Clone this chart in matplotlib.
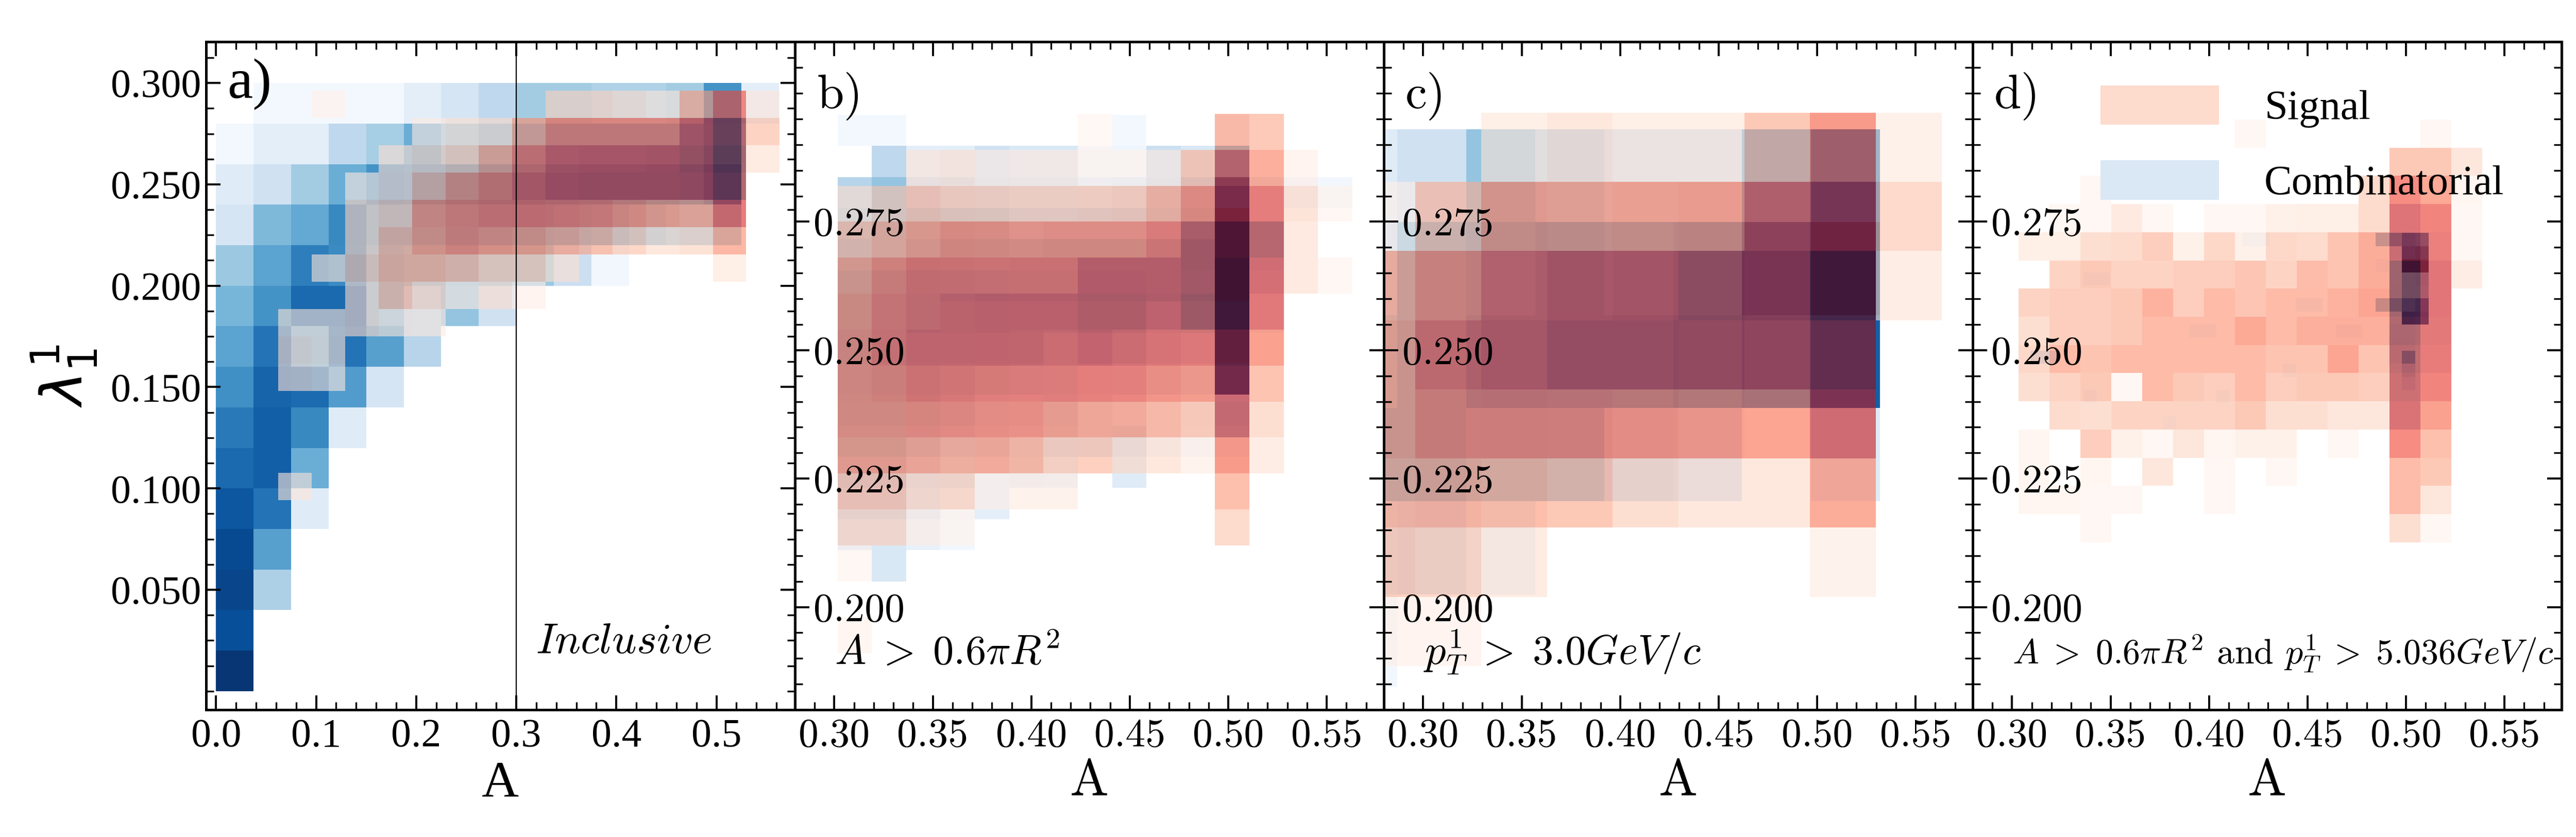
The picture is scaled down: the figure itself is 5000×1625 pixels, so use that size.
import numpy as np
import matplotlib
matplotlib.use("Agg")
import matplotlib.pyplot as plt
from matplotlib.patches import Patch
from matplotlib.ticker import MultipleLocator

plt.rcParams['font.family'] = ['Liberation Serif', 'DejaVu Serif']
plt.rcParams['mathtext.fontset'] = 'cm'

# ---------------- panel a (inclusive) ----------------
a_comb_xedges = np.linspace(0.0, 0.5625, 16)
a_comb_yedges = np.linspace(0.0, 0.30, 16)
a_comb = [
    [0.98, 0, 0, 0, 0, 0, 0, 0, 0, 0, 0, 0, 0, 0, 0],
    [0.88, 0, 0, 0, 0, 0, 0, 0, 0, 0, 0, 0, 0, 0, 0],
    [0.92, 0.33, 0, 0, 0, 0, 0, 0, 0, 0, 0, 0, 0, 0, 0],
    [0.90, 0.56, 0, 0, 0, 0, 0, 0, 0, 0, 0, 0, 0, 0, 0],
    [0.85, 0.74, 0.12, 0, 0, 0, 0, 0, 0, 0, 0, 0, 0, 0, 0],
    [0.78, 0.82, 0.50, 0, 0, 0, 0, 0, 0, 0, 0, 0, 0, 0, 0],
    [0.72, 0.82, 0.66, 0.12, 0, 0, 0, 0, 0, 0, 0, 0, 0, 0, 0],
    [0.63, 0.80, 0.77, 0.58, 0.17, 0, 0, 0, 0, 0, 0, 0, 0, 0, 0],
    [0.55, 0.74, 0.50, 0.74, 0.56, 0.30, 0, 0, 0, 0, 0, 0, 0, 0, 0],
    [0.47, 0.62, 0.78, 0.78, 0.45, 0.30, 0.40, 0.20, 0, 0, 0, 0, 0, 0, 0],
    [0.38, 0.55, 0.70, 0.65, 0.45, 0.42, 0.42, 0.38, 0.38, 0.22, 0.03, 0, 0, 0, 0],
    [0.17, 0.45, 0.52, 0.66, 0.50, 0.50, 0.50, 0.50, 0.50, 0.48, 0.45, 0.40, 0.35, 0.35, 0],
    [0.12, 0.20, 0.36, 0.50, 0.62, 0.60, 0.60, 0.60, 0.60, 0.60, 0.60, 0.60, 0.60, 0.70, 0],
    [0.02, 0.10, 0.10, 0.27, 0.35, 0.50, 0.40, 0.45, 0.50, 0.50, 0.50, 0.50, 0.50, 0.60, 0],
    [0, 0.02, 0.02, 0.02, 0.02, 0.10, 0.17, 0.27, 0.36, 0.36, 0.32, 0.32, 0.36, 0.62, 0.10],
]
a_sig_xedges = np.linspace(0.0622, 0.5632, 16)
a_sig_yedges = np.linspace(0.0943, 0.2962, 16)
a_sig = [
    [0.10, 0, 0, 0, 0, 0, 0, 0, 0, 0, 0, 0, 0, 0, 0],
    [0, 0, 0, 0, 0, 0, 0, 0, 0, 0, 0, 0, 0, 0, 0],
    [0, 0, 0, 0, 0, 0, 0, 0, 0, 0, 0, 0, 0, 0, 0],
    [0, 0, 0, 0, 0, 0, 0, 0, 0, 0, 0, 0, 0, 0, 0],
    [0.12, 0.07, 0, 0, 0, 0, 0, 0, 0, 0, 0, 0, 0, 0, 0],
    [0.15, 0.12, 0, 0, 0, 0, 0, 0, 0, 0, 0, 0, 0, 0, 0],
    [0.10, 0.10, 0.15, 0.08, 0.07, 0, 0, 0, 0, 0, 0, 0, 0, 0, 0],
    [0, 0, 0.15, 0.30, 0.18, 0.06, 0.14, 0.04, 0, 0, 0, 0, 0, 0, 0],
    [0, 0.10, 0.24, 0.36, 0.36, 0.32, 0.24, 0.24, 0.13, 0, 0, 0, 0, 0.10, 0],
    [0, 0, 0.18, 0.34, 0.47, 0.55, 0.50, 0.47, 0.40, 0.34, 0.24, 0.15, 0.18, 0.40, 0],
    [0, 0, 0.18, 0.24, 0.50, 0.56, 0.60, 0.62, 0.60, 0.58, 0.52, 0.46, 0.42, 0.70, 0],
    [0, 0, 0.07, 0.15, 0.32, 0.47, 0.56, 0.68, 0.75, 0.78, 0.78, 0.78, 0.80, 0.95, 0],
    [0, 0, 0, 0.13, 0.18, 0.24, 0.40, 0.60, 0.72, 0.74, 0.74, 0.76, 0.84, 1.00, 0.13],
    [0, 0, 0, 0, 0.07, 0.13, 0.15, 0.40, 0.56, 0.56, 0.56, 0.56, 0.78, 0.95, 0.26],
    [0, 0.03, 0, 0, 0, 0, 0, 0, 0.18, 0.18, 0.15, 0.10, 0.36, 0.60, 0.10],
]

# ---------------- panel b (A > 0.6 pi R^2) ----------------
b_xedges = np.linspace(0.3016, 0.563, 16)
b_comb_yedges = np.linspace(0.2050, 0.2958, 16)
b_comb = [
    [0, 0.15, 0, 0, 0, 0, 0, 0, 0, 0, 0, 0, 0, 0, 0],
    [0.15, 0.15, 0.08, 0.03, 0, 0, 0, 0, 0, 0, 0, 0, 0, 0, 0],
    [0.25, 0.25, 0.15, 0.05, 0.10, 0, 0, 0, 0, 0, 0, 0, 0, 0, 0],
    [0.30, 0.30, 0.20, 0.15, 0.10, 0.10, 0.08, 0, 0.12, 0, 0, 0, 0, 0, 0],
    [0.38, 0.38, 0.30, 0.25, 0.20, 0.15, 0.20, 0.15, 0.20, 0.05, 0.03, 0.05, 0, 0, 0],
    [0.40, 0.40, 0.35, 0.30, 0.25, 0.20, 0.25, 0.15, 0.10, 0.05, 0.05, 0.10, 0, 0, 0],
    [0.42, 0.42, 0.38, 0.35, 0.32, 0.30, 0.28, 0.20, 0.20, 0.15, 0.15, 0.90, 0, 0, 0],
    [0.45, 0.45, 0.40, 0.40, 0.35, 0.35, 0.30, 0.30, 0.30, 0.25, 0.25, 0.95, 0, 0, 0],
    [0.45, 0.45, 0.45, 0.42, 0.40, 0.38, 0.38, 0.38, 0.38, 0.30, 0.35, 0.95, 0.05, 0, 0],
    [0.45, 0.45, 0.45, 0.45, 0.45, 0.42, 0.42, 0.42, 0.42, 0.40, 0.40, 1.00, 0.05, 0, 0],
    [0.40, 0.40, 0.40, 0.40, 0.40, 0.40, 0.40, 0.40, 0.40, 0.40, 0.42, 1.00, 0.08, 0, 0],
    [0.35, 0.40, 0.35, 0.35, 0.35, 0.30, 0.30, 0.30, 0.30, 0.30, 0.35, 1.00, 0.10, 0, 0],
    [0.30, 0.40, 0.25, 0.22, 0.22, 0.20, 0.20, 0.15, 0.18, 0.25, 0.30, 0.90, 0.10, 0.05, 0.03],
    [0, 0.27, 0.10, 0.10, 0.20, 0.15, 0.15, 0.05, 0.05, 0.22, 0.15, 0.50, 0, 0, 0],
    [0.02, 0.02, 0, 0, 0, 0, 0, 0, 0.02, 0, 0, 0.02, 0, 0, 0],
]
b_sig_yedges = np.linspace(0.1910, 0.2960, 16)
b_sig = [
    [0.03, 0, 0, 0, 0, 0, 0, 0, 0, 0, 0, 0, 0, 0, 0],
    [0, 0, 0, 0, 0, 0, 0, 0, 0, 0, 0, 0, 0, 0, 0],
    [0.02, 0, 0, 0, 0, 0, 0, 0, 0, 0, 0, 0, 0, 0, 0],
    [0.20, 0.20, 0.06, 0.02, 0, 0, 0, 0, 0, 0, 0, 0.22, 0, 0, 0],
    [0.30, 0.30, 0.20, 0.22, 0.05, 0.07, 0.07, 0, 0, 0, 0, 0.36, 0, 0, 0],
    [0.47, 0.47, 0.45, 0.41, 0.44, 0.38, 0.26, 0.28, 0.17, 0.15, 0.06, 0.55, 0.12, 0, 0],
    [0.52, 0.52, 0.56, 0.56, 0.55, 0.55, 0.48, 0.45, 0.44, 0.38, 0.30, 0.85, 0.20, 0, 0],
    [0.53, 0.56, 0.64, 0.63, 0.61, 0.61, 0.61, 0.62, 0.61, 0.56, 0.52, 0.80, 0.34, 0, 0],
    [0.53, 0.61, 0.70, 0.70, 0.73, 0.72, 0.70, 0.75, 0.70, 0.67, 0.64, 0.88, 0.52, 0, 0],
    [0.50, 0.60, 0.65, 0.70, 0.73, 0.74, 0.74, 0.80, 0.80, 0.78, 0.90, 1.00, 0.70, 0, 0],
    [0.45, 0.56, 0.64, 0.63, 0.62, 0.63, 0.63, 0.75, 0.75, 0.75, 0.85, 1.00, 0.78, 0.14, 0.02],
    [0.31, 0.38, 0.47, 0.54, 0.53, 0.51, 0.53, 0.53, 0.53, 0.61, 0.85, 0.95, 0.90, 0.14, 0],
    [0.14, 0.23, 0.30, 0.26, 0.25, 0.24, 0.24, 0.26, 0.27, 0.38, 0.55, 0.76, 0.66, 0.17, 0.02],
    [0, 0, 0.11, 0.14, 0.07, 0.08, 0.08, 0.02, 0.02, 0.08, 0.30, 0.66, 0.45, 0.05, 0],
    [0, 0, 0, 0, 0, 0, 0, 0.01, 0, 0, 0, 0.38, 0.31, 0, 0],
]

# ---------------- panel c (pT > 3 GeV/c) ----------------
c_comb_xedges = np.linspace(0.0069, 0.5319, 16)
c_comb_yedges = np.linspace(0.0215, 0.2930, 16)
c_comb = [[0] * 15 for _ in range(9)] + [
    [0, 0, 0, 0, 0, 0, 0, 0.03, 0, 0, 0, 0, 0, 0, 0],
    [0, 0, 0, 0, 0, 0, 0, 0.15, 0.20, 0.08, 0, 0, 0, 0, 0],
    [0, 0, 0, 0, 0, 0, 0, 0.45, 0.45, 0.40, 0.40, 0.25, 0.20, 0, 0.12],
    [0, 0, 0, 0, 0, 0, 0, 0.35, 0.45, 0.55, 0.55, 0.55, 0.60, 0.70, 0.82],
    [0, 0, 0, 0, 0, 0, 0, 0.25, 0.45, 0.50, 0.55, 0.50, 0.55, 0.80, 0.95],
    [0, 0, 0, 0, 0, 0, 0, 0.12, 0.20, 0.40, 0.30, 0.20, 0.20, 0.50, 0.78],
]
c_sig = [[0] * 15 for _ in range(7)] + [
    [0, 0, 0, 0, 0, 0, 0.05, 0.04, 0, 0, 0, 0, 0, 0, 0],
    [0, 0, 0, 0, 0, 0, 0.28, 0.24, 0.13, 0, 0, 0, 0, 0.07, 0],
    [0, 0, 0, 0, 0, 0, 0.38, 0.40, 0.37, 0.32, 0.20, 0.15, 0.15, 0.46, 0],
    [0, 0, 0, 0, 0, 0, 0.45, 0.57, 0.58, 0.57, 0.55, 0.52, 0.50, 0.77, 0],
    [0, 0, 0, 0, 0, 0, 0.45, 0.66, 0.71, 0.80, 0.80, 0.78, 0.72, 0.90, 0],
    [0, 0, 0, 0, 0, 0, 0.40, 0.54, 0.67, 0.73, 0.75, 0.85, 0.80, 1.00, 0.12],
    [0, 0, 0, 0, 0, 0, 0.03, 0.30, 0.47, 0.45, 0.47, 0.49, 0.68, 0.82, 0.23],
    [0, 0, 0, 0, 0, 0, 0, 0, 0.10, 0.15, 0.10, 0.10, 0.32, 0.55, 0.08],
]

# ---------------- panel d (both cuts) ----------------
d_sig_xedges = np.linspace(0.3033, 0.5386, 16)
d_sig_yedges = np.linspace(0.2126, 0.2949, 16)
d_sig = [
    [0, 0, 0.02, 0, 0, 0, 0, 0, 0, 0, 0, 0, 0.20, 0.02, 0],
    [0.03, 0.03, 0.02, 0.02, 0, 0, 0.02, 0, 0, 0, 0, 0, 0.38, 0.16, 0],
    [0.03, 0, 0.03, 0, 0.16, 0, 0.02, 0, 0.02, 0, 0, 0, 0.38, 0.32, 0],
    [0.03, 0, 0.29, 0.08, 0.02, 0.16, 0.03, 0.08, 0.08, 0, 0.02, 0, 0.61, 0.36, 0],
    [0, 0.22, 0.20, 0.26, 0.26, 0.26, 0.26, 0.32, 0.20, 0.20, 0.16, 0.16, 0.78, 0.52, 0],
    [0.20, 0.26, 0.32, 0.02, 0.39, 0.32, 0.29, 0.39, 0.29, 0.32, 0.32, 0.29, 0.85, 0.65, 0],
    [0.24, 0.39, 0.34, 0.39, 0.39, 0.39, 0.39, 0.39, 0.34, 0.34, 0.50, 0.34, 0.90, 0.70, 0],
    [0.20, 0.29, 0.29, 0.32, 0.39, 0.39, 0.39, 0.48, 0.39, 0.45, 0.45, 0.45, 0.95, 0.72, 0],
    [0.26, 0.29, 0.29, 0.32, 0.43, 0.29, 0.39, 0.33, 0.39, 0.39, 0.43, 0.50, 1.00, 0.74, 0],
    [0, 0.26, 0.32, 0.26, 0.26, 0.29, 0.29, 0.33, 0.26, 0.38, 0.34, 0.46, 1.00, 0.74, 0.12],
    [0.10, 0.10, 0.20, 0.22, 0.29, 0.08, 0.24, 0.08, 0.24, 0.22, 0.34, 0.46, 0.82, 0.68, 0.02],
    [0, 0.02, 0.02, 0.14, 0.02, 0, 0.02, 0.02, 0.08, 0.10, 0.10, 0.22, 0.76, 0.65, 0.02],
    [0, 0, 0.02, 0, 0, 0, 0, 0, 0, 0, 0, 0.22, 0.61, 0.48, 0.03],
    [0, 0, 0, 0, 0, 0, 0, 0, 0, 0, 0, 0, 0.32, 0.32, 0.16],
    [0, 0, 0, 0, 0, 0, 0, 0.02, 0, 0, 0, 0, 0, 0.02, 0],
]
# combinatorial in d: only a few occupied fine bins (row counted from the top)
d_comb_xedges = np.linspace(0.3092, 0.5115, 31)
d_comb_yedges = np.linspace(0.2346, 0.2728, 16)
d_comb_row = [0, 0, 0, 0, 0, 0, 1, 1, 1, 2, 2, 2, 2, 3, 3, 3, 3, 3, 4, 4, 4,
              5, 5, 5, 5, 5, 5, 6, 6, 7, 7, 7, 7, 7, 7, 8, 8, 9, 9, 9, 9,
              10, 10, 11, 12, 12, 14]
d_comb_col = [16, 17, 26, 27, 28, 29, 27, 28, 29, 26, 27, 28, 29, 4, 5, 27, 28, 29, 27, 28, 29,
              20, 21, 26, 27, 28, 29, 28, 29, 12, 13, 23, 24, 27, 28, 27, 28, 0, 1, 27, 28,
              19, 28, 28, 4, 14, 10]
d_comb_val = [0.04, 0.04, 0.45, 0.50, 0.75, 0.70, 0.08, 0.85, 0.90, 0.03, 0.03, 1.00, 1.00,
              0.04, 0.04, 0.03, 0.45, 0.48, 0.05, 0.45, 0.45,
              0.04, 0.04, 0.45, 0.40, 0.72, 0.80, 0.88, 0.85, 0.03, 0.03, 0.03, 0.03, 0.03, 0.03,
              0.05, 0.05, 0.25, 0.25, 0.05, 0.50, 0.03, 0.20, 0.10, 0.03, 0.03, 0.03]

d_comb = np.zeros((15, 30))
for r, k, v in zip(d_comb_row, d_comb_col, d_comb_val):
    d_comb[14 - r, k] = v

panels = [
    ('a)', a_comb_xedges, a_comb_yedges, a_comb, a_sig_xedges, a_sig_yedges, a_sig),
    ('b)', b_xedges, b_comb_yedges, b_comb, b_xedges, b_sig_yedges, b_sig),
    ('c)', c_comb_xedges, c_comb_yedges, c_comb, a_sig_xedges, a_sig_yedges, c_sig),
    ('d)', d_comb_xedges, d_comb_yedges, d_comb, d_sig_xedges, d_sig_yedges, d_sig),
]
cut_texts = [r'$Inclusive$', r'$A\;>\;0.6\pi R^2$', r'$p_T^1\;>\;3.0GeV/c$',
             r'$A\;>\;0.6\pi R^2$ and $p_T^1\;>\;5.036GeV/c$']

fig, axes = plt.subplots(1, 4, figsize=(25, 8.125), dpi=200)
fig.subplots_adjust(left=0.080, right=0.9944, bottom=0.152, top=0.950, wspace=0)

for i, (ax, p) in enumerate(zip(axes, panels)):
    lab, cx, cy, cz, sx, sy, sz = p
    ax.pcolormesh(cx, cy, np.ma.masked_equal(np.array(cz, float), 0), cmap='Blues',
                  vmin=0, vmax=1, shading='flat', edgecolors='none', antialiased=False)
    ax.pcolormesh(sx, sy, np.ma.masked_equal(np.array(sz, float), 0), cmap='Reds',
                  vmin=0, vmax=1, alpha=0.6, shading='flat', edgecolors='none',
                  antialiased=False)

    for s in ax.spines.values():
        s.set_linewidth(1.8)
    ax.tick_params(which='both', direction='in', top=True, right=True)
    ax.tick_params(which='major', length=10, width=1.4)
    ax.tick_params(which='minor', length=5.5, width=1.2)
    ax.tick_params(axis='x', pad=6)

    if i == 0:
        ax.set_xlim(-0.010, 0.5785)
        ax.set_ylim(-0.0092, 0.3203)
        xt = [0.0, 0.1, 0.2, 0.3, 0.4, 0.5]
        ax.set_xticks(xt, ['%.1f' % v for v in xt], fontsize=28)
        ax.xaxis.set_minor_locator(MultipleLocator(0.02))
        yt = [0.05, 0.10, 0.15, 0.20, 0.25, 0.30]
        ax.set_yticks(yt, ['%.3f' % v for v in yt], fontsize=28)
        ax.yaxis.set_minor_locator(MultipleLocator(0.0125))
        ax.axvline(0.3, color='black', lw=0.8)
        ax.set_xlabel('A', fontsize=36, labelpad=4)
        ax.set_ylabel(r'$\lambda_1^1$', fontsize=40, math_fontfamily='dejavusans', labelpad=8)
        ax.text(0.036, 0.975, lab, transform=ax.transAxes, fontsize=40, ha='left', va='top')
        ax.text(0.56, 0.085, cut_texts[i], transform=ax.transAxes, fontsize=30,
                ha='left', va='baseline')
    else:
        ax.set_xlim(0.28, 0.579)
        ax.set_ylim(0.180, 0.310)
        xt = [0.30, 0.35, 0.40, 0.45, 0.50, 0.55]
        ax.set_xticks(xt, ['%.2f' % v for v in xt], fontsize=28, fontfamily='cmr10')
        ax.xaxis.set_minor_locator(MultipleLocator(0.01))
        yt = [0.200, 0.225, 0.250, 0.275]
        ax.set_yticks(yt, ['%.3f' % v for v in yt], fontsize=28, fontfamily='cmr10')
        for t in ax.get_yticklabels():
            t.set_horizontalalignment('left')
        ax.tick_params(axis='y', pad=-13)
        ax.yaxis.set_minor_locator(MultipleLocator(0.005))
        ax.set_xlabel('A', fontsize=36, fontfamily='cmr10', labelpad=4)
        ax.text(0.037, 0.955, lab, transform=ax.transAxes, fontsize=34,
                fontfamily='cmr10', ha='left', va='top')
        ax.text(0.067, 0.068, cut_texts[i], transform=ax.transAxes,
                fontsize=24.5 if i == 3 else 29, fontfamily='cmr10',
                ha='left', va='baseline')

handles = [Patch(facecolor='#fddbcd', edgecolor='none'),
           Patch(facecolor='#dae8f5', edgecolor='none')]
axes[3].legend(handles, ['Signal', 'Combinatorial'], loc='upper left',
               bbox_to_anchor=(0.217, 0.935), frameon=False, fontsize=29,
               handlelength=2.85, handleheight=1.09, handletextpad=1.1,
               labelspacing=0.78, borderpad=0, borderaxespad=0)

fig.savefig('out.png', dpi=200)
